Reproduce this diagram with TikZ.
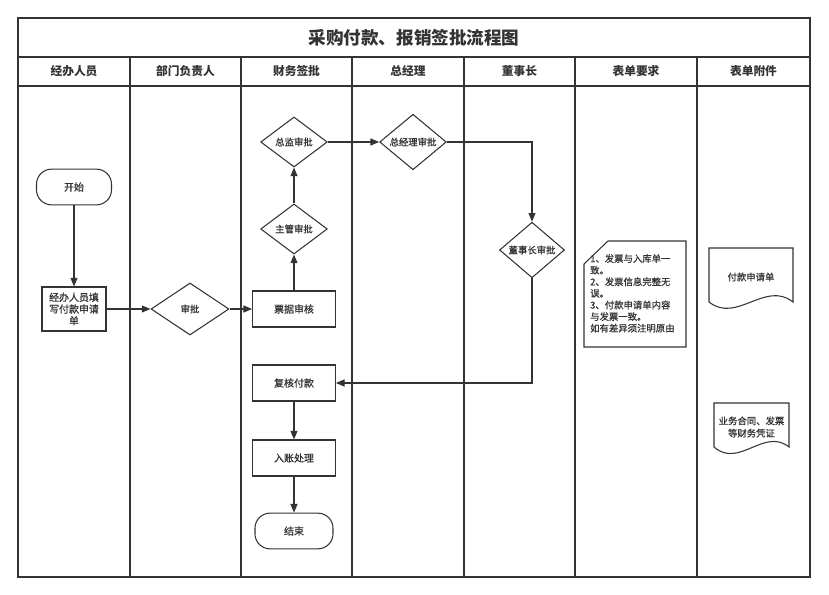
\documentclass[tikz,border=0pt]{standalone}
\usepackage{fontspec}
\setmainfont{Noto Sans CJK SC}
\newfontfamily\medcjk[FakeBold=0.9]{Noto Sans CJK SC}
\usetikzlibrary{positioning,shapes.geometric,arrows.meta}

\definecolor{linec}{HTML}{333333}

\tikzset{
	lane/.style={draw=linec, line width=1.1pt},
	startstop/.style={draw=linec, line width=0.9pt, rounded corners=0.45cm, minimum width=2.25cm, minimum height=1.07cm, font=\medcjk\fontsize{8.5}{10}\selectfont},
	proc/.style={draw=linec, line width=0.9pt, minimum width=2.48cm, minimum height=1.08cm, align=center, font=\medcjk\fontsize{8.5}{10}\selectfont},
	decide/.style={draw=linec, line width=0.9pt, diamond, inner sep=0pt, minimum width=2cm, minimum height=1.5cm, font=\medcjk\fontsize{8}{10}\selectfont},
	flow/.style={draw=linec, line width=0.9pt, -{Triangle[length=2.6mm, width=2.1mm]}},
	hdr/.style={font=\fontsize{10}{12}\selectfont\bfseries, text=linec}
}

\begin{document}
\begin{tikzpicture}[x=0.03cm, y=-0.03cm, text=linec]
\useasboundingbox (0,0) rectangle (829,595);

% swimlane frame
\draw[lane] (18,18) rectangle (810,577);
\draw[lane] (18,57) -- (810,57);
\draw[lane] (18,86) -- (810,86);
\foreach \x in {130,241,352,464,575,697}
	\draw[lane] (\x,57) -- (\x,577);

\node[font=\fontsize{15}{18}\selectfont\bfseries] (title) at (414,38) {采购付款、报销签批流程图};

\node[hdr] (h1) at (74,71) {经办人员};
\node[hdr] (h2) at (185.5,71) {部门负责人};
\node[hdr] (h3) at (296.5,71) {财务签批};
\node[hdr] (h4) at (408,71) {总经理};
\node[hdr] (h5) at (519.5,71) {董事长};
\node[hdr] (h6) at (636,71) {表单要求};
\node[hdr] (h7) at (753.5,71) {表单附件};

% steps
\node[startstop] (start) at (74,187) {开始};
\node[proc, minimum width=1.92cm, minimum height=1.32cm, inner sep=1pt] (fill) at (74,309) {经办人员填\\写付款申请\\单};
\node[decide, minimum width=2.34cm, minimum height=1.56cm] (dept) at (190,309) {审批};
\node[proc] (bill) at (294,309) {票据审核};
\node[decide] (zg) at (294,229) {主管审批};
\node[decide] (zj) at (294,142) {总监审批};
\node[decide] (zjl) at (413,142) {总经理审批};
\node[decide, minimum width=1.95cm, minimum height=1.56cm] (dsz) at (532,250) {董事长审批};
\node[proc] (fh) at (294,383) {复核付款};
\node[proc] (rz) at (294,458) {入账处理};
\node[startstop, minimum width=2.34cm] (end) at (294,531) {结束};

% links
\draw[flow] (start) -- (fill);
\draw[flow] (fill) -- (dept);
\draw[flow] (dept) -- (bill);
\draw[flow] (bill) -- (zg);
\draw[flow] (zg) -- (zj);
\draw[flow] (zj) -- (zjl);
\draw[flow] (zjl) -| (dsz);
\draw[flow] (dsz) |- (fh);
\draw[flow] (fh) -- (rz);
\draw[flow] (rz) -- (end);

% form requirement note
\draw[draw=linec, line width=0.9pt] (608,241) -- (686,241) -- (686,347) -- (584,347) -- (584,264) -- cycle;
\node[anchor=north west, inner sep=0pt, align=left, font=\medcjk\fontsize{8}{9.9}\selectfont] (req) at (590,254)
	{1、发票与入库单一\\致。\\2、发票信息完整无\\误。\\3、付款申请单内容\\与发票一致。\\如有差异须注明原由};

% attachments
\node[font=\medcjk\fontsize{8}{10}\selectfont] (doc1) at (751,277) {付款申请单};
\draw[draw=linec, line width=0.9pt] (709,248) -- (793,248) -- (793,302)
	.. controls (765,280) and (737,324) .. (709,302) -- cycle;
\node[align=center, font=\medcjk\fontsize{8}{10.5}\selectfont] (doc2) at (751.5,427) {业务合同、发票\\等财务凭证};
\draw[draw=linec, line width=0.9pt] (714,403) -- (789,403) -- (789,447)
	.. controls (764,427) and (739,469) .. (714,447) -- cycle;
\end{tikzpicture}
\end{document}
